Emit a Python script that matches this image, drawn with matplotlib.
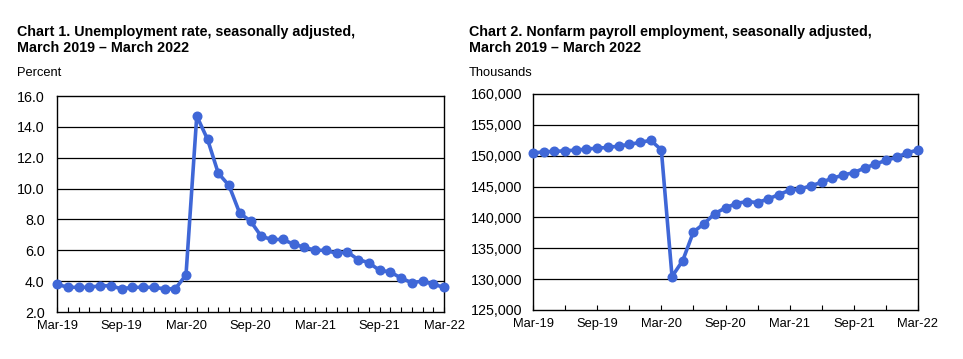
import matplotlib
matplotlib.use("Agg")
import matplotlib.pyplot as plt
from matplotlib.ticker import FuncFormatter, FixedLocator

plt.rcParams['font.family'] = ['Liberation Sans', 'DejaVu Sans']

months = ["Mar-19", "Apr-19", "May-19", "Jun-19", "Jul-19", "Aug-19", "Sep-19", "Oct-19",
          "Nov-19", "Dec-19", "Jan-20", "Feb-20", "Mar-20", "Apr-20", "May-20", "Jun-20",
          "Jul-20", "Aug-20", "Sep-20", "Oct-20", "Nov-20", "Dec-20", "Jan-21", "Feb-21",
          "Mar-21", "Apr-21", "May-21", "Jun-21", "Jul-21", "Aug-21", "Sep-21", "Oct-21",
          "Nov-21", "Dec-21", "Jan-22", "Feb-22", "Mar-22"]

unemployment = [3.8, 3.6, 3.6, 3.6, 3.7, 3.7, 3.5, 3.6, 3.6, 3.6, 3.5, 3.5, 4.4, 14.7,
                13.2, 11.0, 10.2, 8.4, 7.9, 6.9, 6.7, 6.7, 6.4, 6.2, 6.0, 6.0, 5.8, 5.9,
                5.4, 5.2, 4.7, 4.6, 4.2, 3.9, 4.0, 3.8, 3.6]

payroll = [150420, 150640, 150690, 150800, 150910, 151070, 151230, 151340, 151560, 151830,
           152150, 152500, 150960, 130420, 133000, 137650, 139000, 140630, 141550, 142250,
           142580, 142410, 143000, 143710, 144410, 144630, 145120, 145710, 146360, 146850,
           147280, 147990, 148640, 149240, 149740, 150490, 150920]

left_titles = ["Chart 1. Unemployment rate, seasonally adjusted,", "March 2019 \u2013 March 2022"]
right_titles = ["Chart 2. Nonfarm payroll employment, seasonally adjusted,", "March 2019 \u2013 March 2022"]
left_unit = "Percent"
right_unit = "Thousands"

color = "#3F67D7"
W, H = 963, 359
fig = plt.figure(figsize=(W / 100, H / 100), dpi=100)

def box(x0, x1, ytop, ybot):
    return [x0 / W, 1 - ybot / H, (x1 - x0) / W, (ybot - ytop) / H]

ax1 = fig.add_axes(box(57, 444, 96, 312))
ax2 = fig.add_axes(box(533, 918, 94, 310))

x = list(range(len(months)))
label_idx = list(range(0, len(months), 6))

def style(ax, yvals, ylim, ystep, fmt, minor_step, ypad):
    ax.plot(x, yvals, color=color, lw=2.6, marker='o', ms=6.2, clip_on=False, zorder=5)
    ax.set_xlim(0, len(months) - 1)
    ax.set_ylim(*ylim)
    yt = []
    v = ylim[0]
    while v <= ylim[1] + 1e-9:
        yt.append(v)
        v += ystep
    ax.set_yticks(yt)
    ax.yaxis.set_major_formatter(FuncFormatter(fmt))
    for t in yt[1:-1]:
        ax.axhline(t, color='black', lw=0.9, zorder=1)
    ax.set_xticks(label_idx)
    ax.set_xticklabels([months[i] for i in label_idx])
    ax.xaxis.set_minor_locator(FixedLocator(list(range(0, len(months), minor_step))))
    ax.tick_params(axis='x', which='both', direction='in', length=3.5, width=0.8,
                   labelsize=9.3, pad=6, top=False)
    ax.tick_params(axis='y', length=0, labelsize=10.3, pad=ypad)
    for s in ax.spines.values():
        s.set_linewidth(1.0)
        s.set_color('black')

style(ax1, unemployment, (2.0, 16.0), 2.0, lambda v, p: f"{v:.1f}", 1, 9)
style(ax2, payroll, (125000, 160000), 5000, lambda v, p: f"{int(v):,}", 3, 8)

for xs, titles, unit in [(17, left_titles, left_unit), (469, right_titles, right_unit)]:
    fig.text(xs / W, 1 - 36 / H, titles[0], fontsize=10.3, fontweight='bold', va='baseline', ha='left')
    fig.text(xs / W, 1 - 52 / H, titles[1], fontsize=10.3, fontweight='bold', va='baseline', ha='left')
    fig.text(xs / W, 1 - 76 / H, unit, fontsize=9.3, va='baseline', ha='left')

fig.savefig("out.png", dpi=100)
